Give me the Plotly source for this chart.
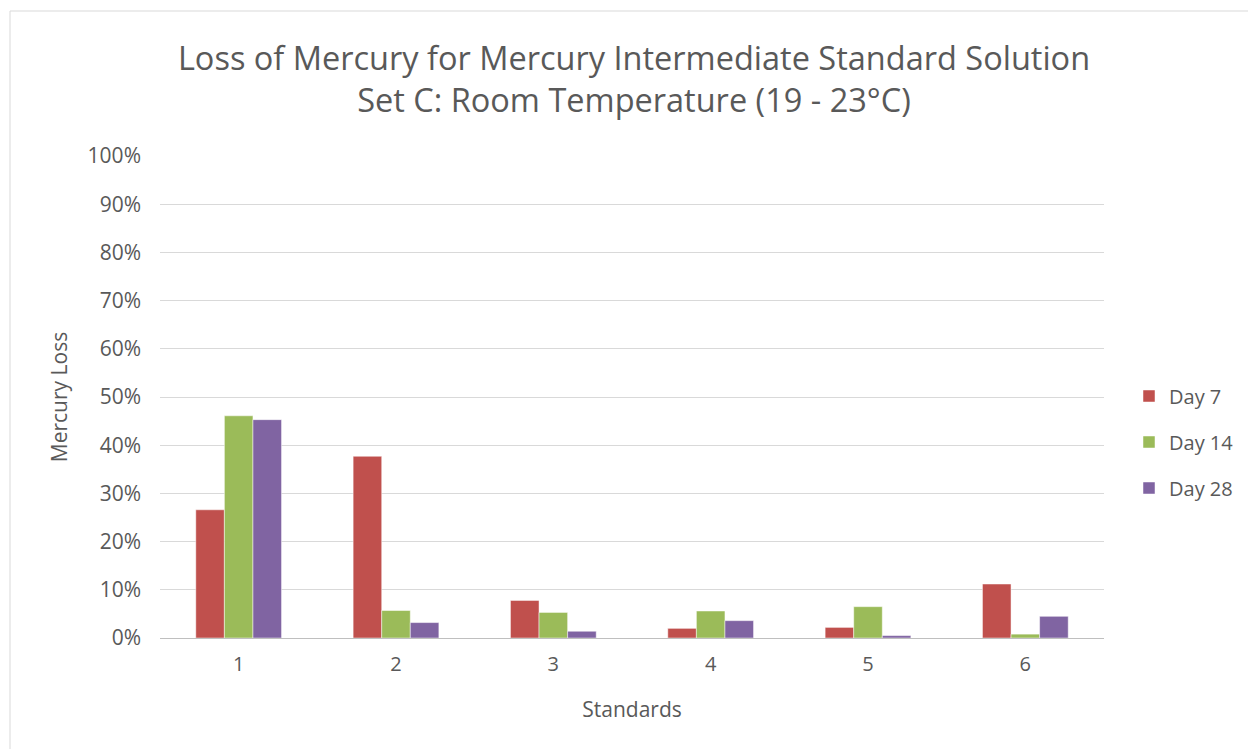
import plotly.graph_objects as go

# Mercury loss per standard, by storage day (fraction of initial)
standards = ["1", "2", "3", "4", "5", "6"]
day7 = [0.266, 0.377, 0.078, 0.020, 0.022, 0.112]
day14 = [0.461, 0.057, 0.053, 0.056, 0.065, 0.008]
day28 = [0.453, 0.032, 0.014, 0.036, 0.005, 0.045]

series = [
    ("Day 7", day7, "#C0504D"),
    ("Day 14", day14, "#9BBB59"),
    ("Day 28", day28, "#8064A2"),
]

W, H = 1248, 749
L, R, T, B = 160, 144, 156, 111
font_family = "'Open Sans', sans-serif"
gray = "#595959"

fig = go.Figure()
for name, vals, color in series:
    fig.add_trace(go.Bar(
        x=standards, y=vals, name=name, legendgroup=name,
        marker=dict(color=color, line=dict(color="rgba(255,255,255,0.6)", width=0.8)),
    ))

pw, ph = W - L - R, H - T - B


def px_x(p):
    return (p - L) / pw


def px_y(p):
    return (H - B - p) / ph


fig.add_shape(type="rect", xref="paper", yref="paper",
              x0=px_x(10), x1=px_x(1260), y0=px_y(760), y1=px_y(11),
              line=dict(color="#d9d9d9", width=1), fillcolor="rgba(0,0,0,0)", layer="below")

fig.update_layout(
    width=W, height=H,
    margin=dict(l=L, r=R, t=T, b=B, autoexpand=False),
    paper_bgcolor="white", plot_bgcolor="white",
    barmode="group", bargap=0.455, bargroupgap=0,
    font=dict(family=font_family, color=gray, size=20),
    title=dict(
        text="Loss of Mercury for Mercury Intermediate Standard Solution<br>Set C: Room Temperature (19 - 23°C)",
        x=634 / W, xanchor="center",
        y=1 - 70 / H, yanchor="middle",
        font=dict(size=32.5, color=gray, family=font_family),
    ),
    xaxis=dict(
        title=dict(text="Standards", font=dict(size=21, color=gray), standoff=26),
        showgrid=False, showline=True, linecolor="#bfbfbf", linewidth=1,
        ticks="", ticklabelstandoff=8, tickfont=dict(size=20, color=gray),
    ),
    yaxis=dict(
        title=dict(text="Mercury Loss", font=dict(size=21, color=gray), standoff=14),
        range=[0, 1], dtick=0.1, tickformat=".0%",
        showgrid=True, gridcolor="#d9d9d9", gridwidth=1,
        zeroline=False, showline=False, ticks="", ticklabelstandoff=18,
        tickfont=dict(size=21, color=gray),
    ),
    legend=dict(
        x=px_x(1129), xanchor="left", y=px_y(442), yanchor="middle",
        font=dict(size=20, color=gray), tracegroupgap=17,
        itemwidth=30, bgcolor="rgba(0,0,0,0)",
    ),
    showlegend=True,
)

fig.write_html("out.html")
